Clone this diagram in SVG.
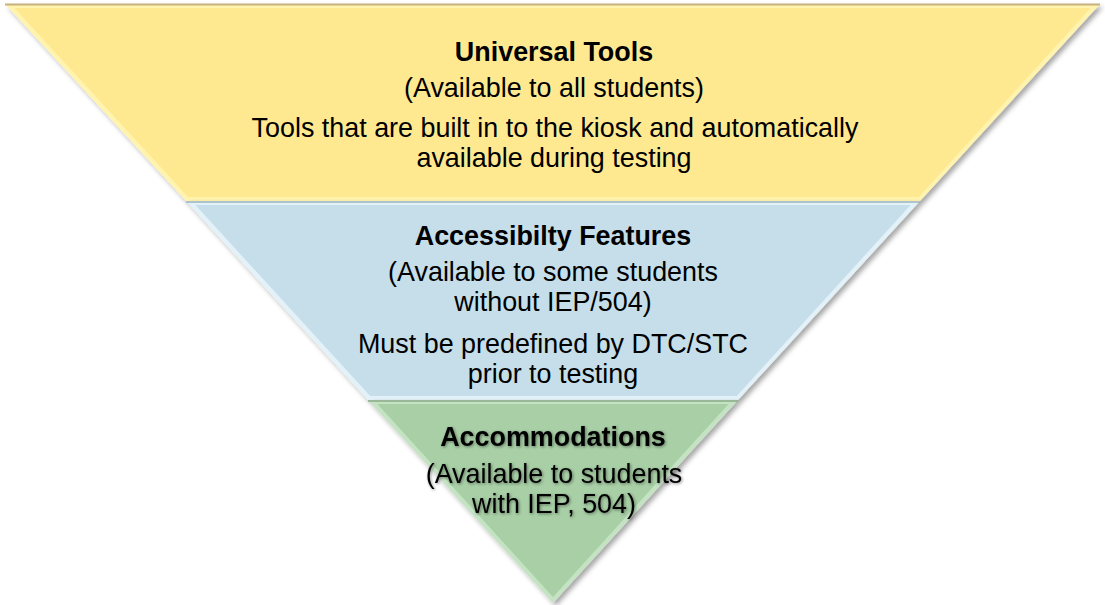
<svg xmlns="http://www.w3.org/2000/svg" width="1105" height="605" viewBox="0 0 1105 605">
  <defs>
    <filter id="shadow" x="-5%" y="-5%" width="115%" height="115%">
      <feDropShadow dx="3" dy="3" stdDeviation="2.5" flood-color="#000" flood-opacity="0.35"/>
    </filter>
    <filter id="tshadow" x="-10%" y="-30%" width="120%" height="160%">
      <feDropShadow dx="1" dy="1" stdDeviation="1.5" flood-color="#000" flood-opacity="0.45"/>
    </filter>
  </defs>
  <style>
    text { font-family: "Liberation Sans", Arial, sans-serif; font-size: 26.9px; fill: #000; text-anchor: middle; }
    .b { font-weight: bold; }
  </style>
  <rect width="1105" height="605" fill="#fff"/>
  <g id="universal-tools">
    <polygon points="5,4 1100,4 920,201 186,201" fill="#FFF3AE" filter="url(#shadow)"/>
    <polygon points="14.4,8 1090.6,8 918.8,197 188.2,197" fill="#FEE991"/>
    <line x1="5" y1="4.5" x2="1100" y2="4.5" stroke="#C6B27C" stroke-width="2"/>
    <text class="b" x="554" y="61">Universal Tools</text>
    <text x="554" y="97">(Available to all students)</text>
    <text x="555" y="137">Tools that are built in to the kiosk and automatically</text>
    <text x="554" y="167">available during testing</text>
  </g>
  <g id="accessibility-features">
    <polygon points="186,201 920,201 738,400 368,400" fill="#E3F2F8" filter="url(#shadow)"/>
    <polygon points="195.4,205 910.6,205 736.8,396 370.2,396" fill="#C5DEE9"/>
    <line x1="186" y1="202" x2="920" y2="202" stroke="#9DB3BD" stroke-width="1.5"/>
    <text class="b" x="553" y="245">Accessibilty Features</text>
    <text x="553" y="281">(Available to some students</text>
    <text x="553" y="311">without IEP/504)</text>
    <text x="553" y="353">Must be predefined by DTC/STC</text>
    <text x="553" y="383">prior to testing</text>
  </g>
  <g id="accommodations">
    <polygon points="368,400 738,400 553,603" fill="#C4E3C2" filter="url(#shadow)"/>
    <polygon points="377.4,404 728.6,404 553,597" fill="#A8CFA6"/>
    <line x1="368" y1="401" x2="738" y2="401" stroke="#8AAA88" stroke-width="1.5"/>
    <g filter="url(#tshadow)">
      <text class="b" x="553" y="446">Accommodations</text>
      <text x="554" y="483">(Available to students</text>
      <text x="554" y="513">with IEP, 504)</text>
    </g>
  </g>
</svg>
